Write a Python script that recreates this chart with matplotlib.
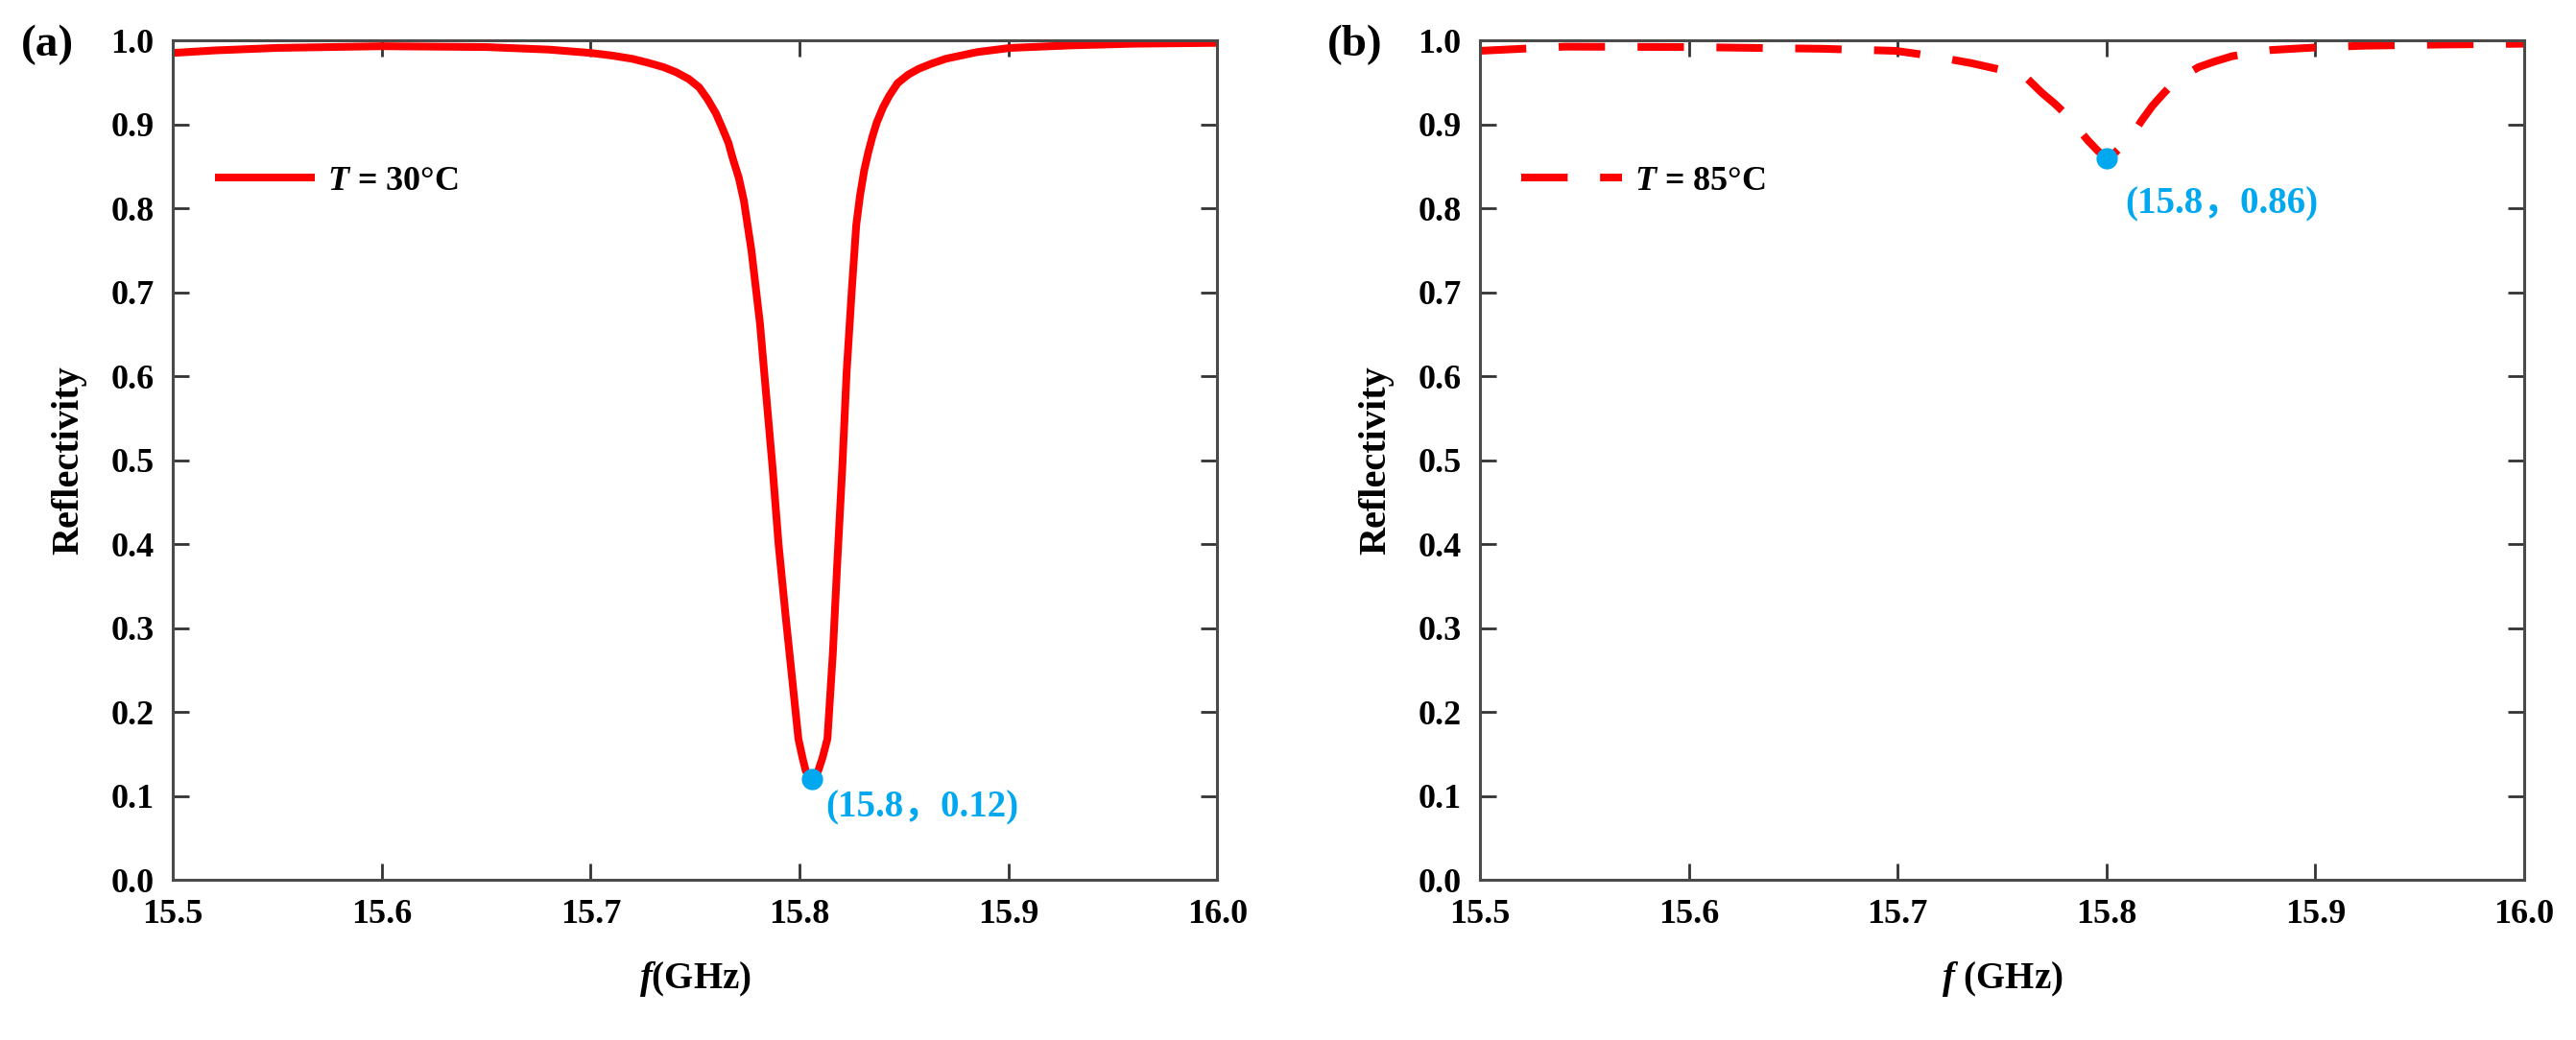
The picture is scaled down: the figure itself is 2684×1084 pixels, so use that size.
import matplotlib
matplotlib.use('Agg')
import matplotlib.pyplot as plt

plt.rcParams['font.family'] = ['Liberation Serif', 'Noto Sans CJK SC']
plt.rcParams['font.weight'] = 'bold'
plt.rcParams['mathtext.fontset'] = 'custom'
plt.rcParams['mathtext.rm'] = 'Liberation Serif:bold'
plt.rcParams['mathtext.it'] = 'Liberation Serif:italic:bold'

# panel (a): T = 30 C
f_30 = [15.50, 15.52, 15.55, 15.60, 15.65, 15.68, 15.70, 15.71, 15.72, 15.728,
        15.735, 15.741, 15.747, 15.752, 15.756, 15.760, 15.763, 15.766, 15.768,
        15.771, 15.7734, 15.777, 15.7811, 15.784, 15.7872, 15.790, 15.7934,
        15.7965, 15.7995, 15.8015, 15.803, 15.8045, 15.806, 15.8075, 15.809,
        15.811, 15.8134, 15.816, 15.818, 15.8205, 15.8226, 15.825, 15.8272,
        15.829, 15.831, 15.833, 15.8349, 15.837, 15.840, 15.843, 15.847, 15.852,
        15.857, 15.863, 15.870, 15.885, 15.901, 15.93, 15.96, 16.00]
r_30 = [0.985, 0.988, 0.991, 0.993, 0.992, 0.989, 0.985, 0.982, 0.978, 0.973,
        0.968, 0.962, 0.954, 0.944, 0.930, 0.913, 0.896, 0.878, 0.860,
        0.836, 0.809, 0.750, 0.663, 0.580, 0.489, 0.400, 0.314,
        0.240, 0.168, 0.145, 0.130, 0.123, 0.120, 0.123, 0.130,
        0.145, 0.168, 0.270, 0.372, 0.490, 0.605, 0.700, 0.780,
        0.815, 0.845, 0.867, 0.885, 0.902, 0.920, 0.934, 0.949, 0.959,
        0.966, 0.972, 0.978, 0.986, 0.991, 0.994, 0.996, 0.997]

# panel (b): T = 85 C
f_85 = [15.50, 15.541, 15.60, 15.663, 15.699, 15.715, 15.726, 15.735, 15.744,
        15.753, 15.761, 15.769, 15.775, 15.781, 15.786, 15.791, 15.796, 15.800,
        15.804, 15.8085, 15.8125, 15.817, 15.822, 15.827, 15.832, 15.838, 15.844,
        15.852, 15.860, 15.869, 15.879, 15.900, 15.923, 15.96, 16.00]
r_85 = [0.9875, 0.9925, 0.992, 0.990, 0.9875, 0.982, 0.977, 0.973, 0.968,
        0.963, 0.957, 0.9376, 0.925, 0.911, 0.896, 0.881, 0.868, 0.860,
        0.866, 0.877, 0.888, 0.905, 0.922, 0.936, 0.949, 0.959, 0.968,
        0.975, 0.981, 0.985, 0.9885, 0.9915, 0.9936, 0.995, 0.996]

min_30 = (15.806, 0.12)
min_85 = (15.80, 0.86)
labels_min = ['(15.8，0.12)', '(15.8，0.86)']

xticks = [15.5, 15.6, 15.7, 15.8, 15.9, 16.0]
yticks = [0.0, 0.1, 0.2, 0.3, 0.4, 0.5, 0.6, 0.7, 0.8, 0.9, 1.0]

red = '#FF0000'
blue = '#00A8F0'
spine_col = '#4a4a4a'

fig = plt.figure(figsize=(26.84, 10.84), dpi=100)
ax1 = fig.add_axes([0.0671, 0.1540, 0.4054, 0.8072])
ax2 = fig.add_axes([0.5745, 0.1540, 0.4054, 0.8072])

ax1.plot(f_30, r_30, color=red, lw=5.8, label=r'$T$ = 30°C',
         solid_capstyle='butt', solid_joinstyle='round')
ax2.plot(f_85, r_85, color=red, lw=5.8, label=r'$T$ = 85°C', dashes=(6, 4.2))

ax1.plot([min_30[0]], [min_30[1]], 'o', color=blue, ms=15, zorder=5)
ax2.plot([min_85[0]], [min_85[1]], 'o', color=blue, ms=15, zorder=5)
ax1.text(15.8124, 0.086, labels_min[0], color=blue, fontsize=28, fontweight='bold',
         ha='left', va='center')
ax2.text(15.809, 0.805, labels_min[1], color=blue, fontsize=28, fontweight='bold',
         ha='left', va='center')

for ax, xl, tag in [(ax1, r'$f$(GHz)', '(a)'), (ax2, r'$f$ (GHz)', '(b)')]:
    ax.set_xlim(15.5, 16.0)
    ax.set_ylim(0.0, 1.0)
    ax.set_xticks(xticks)
    ax.set_yticks(yticks)
    ax.set_xticklabels(['%.1f' % v for v in xticks])
    ax.set_yticklabels(['%.1f' % v for v in yticks])
    ax.tick_params(direction='in', top=True, right=True, length=12, width=2,
                   labelsize=26, color='#333333', pad=14)
    for s in ax.spines.values():
        s.set_linewidth(2.2)
        s.set_color(spine_col)
    ax.set_xlabel(xl, fontsize=28, fontweight='bold', labelpad=22)
    ax.set_ylabel('Reflectivity', fontsize=29, fontweight='bold', labelpad=18)
    ax.legend(loc='center left', bbox_to_anchor=(0.04, 0.832), frameon=False,
              fontsize=26, handlelength=2.9, handletextpad=0.35,
              borderaxespad=0, borderpad=0)
    ax.text(-0.12, 0.995, tag, transform=ax.transAxes, fontsize=34,
            fontweight='bold', ha='center', va='center')

fig.savefig('out.png', dpi=100)
